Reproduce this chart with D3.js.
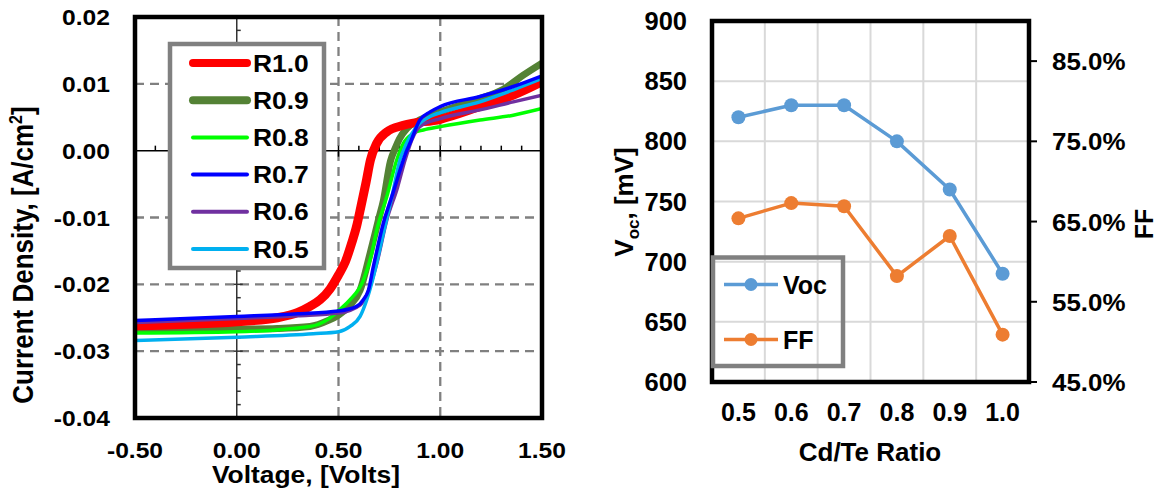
<!DOCTYPE html>
<html><head><meta charset="utf-8">
<script src="https://cdn.jsdelivr.net/npm/d3@7"></script>
<style>
html,body{margin:0;padding:0;background:#fff;}
svg{display:block;}
text{font-family:"Liberation Sans",Arial,sans-serif;font-weight:bold;fill:#000;}
</style></head>
<body>
<svg id="chart" width="1157" height="491"></svg>
<script>
// ---------- Left chart data (J-V curves) ----------
const jvNames = ["R1.0","R0.9","R0.8","R0.7","R0.6","R0.5"];
const jvR10 = [[-0.5,-0.0262],[0,-0.0256],[0.2,-0.025],[0.3,-0.0242],[0.36,-0.0233],[0.41,-0.0223],[0.458,-0.0207],[0.5,-0.0186],[0.534,-0.0166],[0.565,-0.0138],[0.589,-0.0113],[0.61,-0.0084],[0.635,-0.0048],[0.657,-0.0014],[0.688,0.0011],[0.737,0.0028],[0.819,0.0038],[1.0,0.0047],[1.195,0.0066],[1.359,0.0083],[1.5,0.0103]];
const jvR09 = [[-0.5,-0.0268],[0,-0.0267],[0.2,-0.0266],[0.36,-0.0263],[0.45,-0.0254],[0.5,-0.0246],[0.557,-0.0231],[0.606,-0.0209],[0.655,-0.0154],[0.696,-0.0104],[0.721,-0.0074],[0.755,-0.0016],[0.778,0.0003],[0.8,0.0018],[0.835,0.0033],[0.9,0.0046],[1.0,0.0058],[1.195,0.0078],[1.31,0.0092],[1.408,0.0113],[1.5,0.0131]];
const jvR08 = [[-0.5,-0.0273],[0,-0.0271],[0.36,-0.0263],[0.45,-0.0252],[0.501,-0.0239],[0.557,-0.0223],[0.622,-0.0194],[0.66,-0.0158],[0.688,-0.0119],[0.74,-0.0066],[0.786,-0.0014],[0.819,0.0011],[0.868,0.0026],[0.917,0.0031],[1.0,0.0036],[1.195,0.0046],[1.359,0.0053],[1.5,0.0063]];
const jvR07 = [[-0.5,-0.0254],[0,-0.0248],[0.3,-0.0244],[0.5,-0.024],[0.589,-0.0233],[0.622,-0.0223],[0.647,-0.0209],[0.671,-0.0174],[0.72,-0.0109],[0.769,-0.0062],[0.81,-0.0022],[0.835,0.0],[0.851,0.0011],[0.9,0.0046],[0.95,0.0058],[1.0,0.0066],[1.195,0.0081],[1.359,0.0096],[1.5,0.0112]];
const jvR06 = [[-0.5,-0.0257],[0,-0.0251],[0.3,-0.0247],[0.5,-0.0243],[0.606,-0.0231],[0.639,-0.0216],[0.688,-0.0169],[0.737,-0.0104],[0.79,-0.0055],[0.827,-0.0014],[0.86,0.0016],[0.9,0.0036],[1.0,0.0048],[1.195,0.0061],[1.359,0.0073],[1.5,0.0083]];
const jvR05 = [[-0.5,-0.0284],[0,-0.0279],[0.376,-0.0274],[0.501,-0.0271],[0.557,-0.0263],[0.606,-0.0248],[0.639,-0.0223],[0.671,-0.0189],[0.72,-0.0124],[0.765,-0.0065],[0.802,-0.0014],[0.835,0.0011],[0.884,0.0036],[0.95,0.0051],[1.0,0.0057],[1.195,0.0073],[1.359,0.0091],[1.5,0.0108]];
const jvXTicks = [-0.5, 0, 0.5, 1.0, 1.5];
const jvYTicks = [0.02, 0.01, 0.0, -0.01, -0.02, -0.03, -0.04];

// ---------- Right chart data ----------
const ratioCats = ["0.5","0.6","0.7","0.8","0.9","1.0"];
const vocValues = [820, 830, 830, 800, 760, 690];
const ffValues  = [0.654, 0.673, 0.669, 0.582, 0.632, 0.509];
const vocTicks = [600, 650, 700, 750, 800, 850, 900];
const ffTicks  = [0.45, 0.55, 0.65, 0.75, 0.85];

// ---------- styles ----------
const jvColors = ["#ff0000","#548235","#00ff00","#0000ff","#7030a0","#00b0f0"];
const jvWidths = [9, 7, 3.5, 3.5, 3.5, 3.5];
const jvLegendWidths = [8, 8, 4, 4, 4, 4];
const drawOrder = [1, 0, 2, 4, 5, 3];
const vocColor = "#5b9bd5", ffColor = "#ed7d31";

const svg = d3.select("#chart");
const fmt2 = v => d3.format(".2f")(v).replace("\u2212", "-");

function label(g, x, y, str, size, anchor, sx, rot) {
  const t = g.append("text")
    .attr("transform", `translate(${x},${y}) scale(${sx||1},1)` + (rot ? ` rotate(${rot})` : ""))
    .attr("font-size", size)
    .attr("text-anchor", anchor || "start");
  if (str !== null) t.text(str);
  return t;
}

// ================= LEFT CHART =================
const xL = d3.scaleLinear().domain([-0.5, 1.5]).range([135, 542]);
const yL = d3.scaleLinear().domain([-0.04, 0.02]).range([418, 17]);
const gL = svg.append("g");

gL.append("clipPath").attr("id","clipL").append("rect")
  .attr("x", xL(-0.5)).attr("y", yL(0.02))
  .attr("width", xL(1.5)-xL(-0.5)).attr("height", yL(-0.04)-yL(0.02));

const gridCol = "#808080";
[0.5, 1.0].forEach(v => gL.append("line")
  .attr("x1", xL(v)).attr("x2", xL(v)).attr("y1", yL(0.02)).attr("y2", yL(-0.04))
  .attr("stroke", gridCol).attr("stroke-width", 2.3).attr("stroke-dasharray", "9,6"));
[0.01, -0.01, -0.02, -0.03].forEach(v => gL.append("line")
  .attr("x1", xL(-0.5)).attr("x2", xL(1.5)).attr("y1", yL(v)).attr("y2", yL(v))
  .attr("stroke", gridCol).attr("stroke-width", 2.3).attr("stroke-dasharray", "9,6"));

gL.append("line").attr("x1", xL(-0.5)).attr("x2", xL(1.5)).attr("y1", yL(0)).attr("y2", yL(0))
  .attr("stroke", "#000").attr("stroke-width", 1.5);
gL.append("line").attr("x1", xL(0)).attr("x2", xL(0)).attr("y1", yL(0.02)).attr("y2", yL(-0.04))
  .attr("stroke", "#333").attr("stroke-width", 1.5);
d3.range(-0.4, 1.5, 0.1).forEach(v => {
  const major = Math.abs(v*2 - Math.round(v*2)) < 1e-6;
  gL.append("line").attr("x1", xL(v)).attr("x2", xL(v))
    .attr("y1", yL(0) - 5).attr("y2", yL(0) + (major ? 6 : 0))
    .attr("stroke", "#000").attr("stroke-width", 1.5);
});
d3.range(-0.038, 0.02, 0.002).forEach(v => {
  const major = Math.abs(v*100 - Math.round(v*100)) < 1e-6;
  gL.append("line").attr("x1", xL(0) - (major ? 3 : 0)).attr("x2", xL(0) + (major ? 6 : 4))
    .attr("y1", yL(v)).attr("y2", yL(v))
    .attr("stroke", "#333").attr("stroke-width", 1.5);
});

const jvData = [jvR10, jvR09, jvR08, jvR07, jvR06, jvR05];
const lineL = d3.line().x(d => xL(d[0])).y(d => yL(d[1])).curve(d3.curveMonotoneX);
const curveG = gL.append("g").attr("clip-path", "url(#clipL)");
drawOrder.forEach(i => curveG.append("path")
  .attr("d", lineL(jvData[i])).attr("fill", "none")
  .attr("stroke", jvColors[i]).attr("stroke-width", jvWidths[i])
  .attr("stroke-linejoin", "round").attr("stroke-linecap", "round"));

gL.append("rect").attr("x", xL(-0.5)).attr("y", yL(0.02))
  .attr("width", xL(1.5)-xL(-0.5)).attr("height", yL(-0.04)-yL(0.02))
  .attr("fill", "none").attr("stroke", "#000").attr("stroke-width", 4.5);

const legL = gL.append("g");
legL.append("rect").attr("x", 170).attr("y", 44).attr("width", 154).attr("height", 224)
  .attr("fill", "#fff").attr("stroke", "#808080").attr("stroke-width", 4.5);
const legRowY = d3.scalePoint().domain(jvNames).range([63, 249]);
jvNames.forEach((n, i) => {
  const y = legRowY(n);
  legL.append("line").attr("x1", 193).attr("x2", 247).attr("y1", y).attr("y2", y)
    .attr("stroke", jvColors[i]).attr("stroke-width", jvLegendWidths[i]).attr("stroke-linecap", "round");
  label(legL, 253, y + 8.6, n, 24, "start", 1.1);
});

jvYTicks.forEach(v => label(gL, 110, yL(v) + 8, fmt2(v), 22, "end", 1.12));
jvXTicks.forEach(v => label(gL, xL(v), 458, fmt2(v), 22, "middle", 1.12));

label(gL, 306, 483, "Voltage, [Volts]", 24, "middle", 1.1);
const yt = label(gL, 33, 255, null, 26, "middle", 1.1, -90);
yt.append("tspan").text("Current Density, [A/cm");
yt.append("tspan").attr("font-size", 16).attr("dy", -10).text("2");
yt.append("tspan").attr("dy", 10).text("]");

// ================= RIGHT CHART =================
const xR = d3.scaleBand().domain(ratioCats).range([712, 1029]);
const yV = d3.scaleLinear().domain([600, 900]).range([382, 21]);
const yF = d3.scaleLinear().domain([0.45, 0.90]).range([382, 21]);
const gR = svg.append("g");

vocTicks.filter(v => v > 600 && v < 900).forEach(v => gR.append("line")
  .attr("x1", 712).attr("x2", 1029).attr("y1", yV(v)).attr("y2", yV(v))
  .attr("stroke", "#d9d9d9").attr("stroke-width", 2));
ratioCats.slice(1).forEach(c => gR.append("line")
  .attr("x1", xR(c)).attr("x2", xR(c)).attr("y1", yV(900)).attr("y2", yV(600))
  .attr("stroke", "#d9d9d9").attr("stroke-width", 2));

const cx = c => xR(c) + xR.bandwidth()/2;
const vocLine = d3.line().x((d, i) => cx(ratioCats[i])).y(d => yV(d));
const ffLine  = d3.line().x((d, i) => cx(ratioCats[i])).y(d => yF(d));
gR.append("path").attr("d", vocLine(vocValues)).attr("fill", "none")
  .attr("stroke", vocColor).attr("stroke-width", 3.5).attr("stroke-linejoin", "round");
gR.append("path").attr("d", ffLine(ffValues)).attr("fill", "none")
  .attr("stroke", ffColor).attr("stroke-width", 3.5).attr("stroke-linejoin", "round");
vocValues.forEach((v, i) => gR.append("circle").attr("cx", cx(ratioCats[i])).attr("cy", yV(v)).attr("r", 7).attr("fill", vocColor));
ffValues.forEach((v, i) => gR.append("circle").attr("cx", cx(ratioCats[i])).attr("cy", yF(v)).attr("r", 7).attr("fill", ffColor));

gR.append("rect").attr("x", 712).attr("y", yV(900)).attr("width", 1029-712).attr("height", yV(600)-yV(900))
  .attr("fill", "none").attr("stroke", "#000").attr("stroke-width", 4.5);
ffTicks.forEach(v => gR.append("line").attr("x1", 1029).attr("x2", 1037)
  .attr("y1", yF(v)).attr("y2", yF(v)).attr("stroke", "#000").attr("stroke-width", 2));

vocTicks.forEach(v => label(gR, 687, yV(v) + 9, String(v), 25, "end", 1.02));
ffTicks.forEach(v => label(gR, 1052, yF(v) + 9, d3.format(".1%")(v), 24, "start", 1.08));
ratioCats.forEach(c => label(gR, cx(c), 421, c, 25, "middle", 1.0));

label(gR, 870, 461, "Cd/Te Ratio", 26, "middle", 1.0);
const vt = label(gR, 633, 202, null, 26, "middle", 1.0, -90);
vt.append("tspan").text("V");
vt.append("tspan").attr("font-size", 17).attr("dy", 6).text("oc");
vt.append("tspan").attr("dy", -6).text(", [mV]");
label(gR, 1153, 224, "FF", 25, "middle", 1.0, -90);

const legR = gR.append("g");
legR.append("rect").attr("x", 713).attr("y", 257.5).attr("width", 130).attr("height", 108.5)
  .attr("fill", "none").attr("stroke", "#808080").attr("stroke-width", 4.5);
[["Voc", vocColor, 284.5], ["FF", ffColor, 339.5]].forEach(([n, col, y]) => {
  legR.append("line").attr("x1", 724).attr("x2", 778).attr("y1", y).attr("y2", y)
    .attr("stroke", col).attr("stroke-width", 3.5);
  legR.append("circle").attr("cx", 751).attr("cy", y).attr("r", 6.5).attr("fill", col);
  label(legR, 783, y + 9, n, 25, "start", 1.0);
});
</script>
</body></html>
